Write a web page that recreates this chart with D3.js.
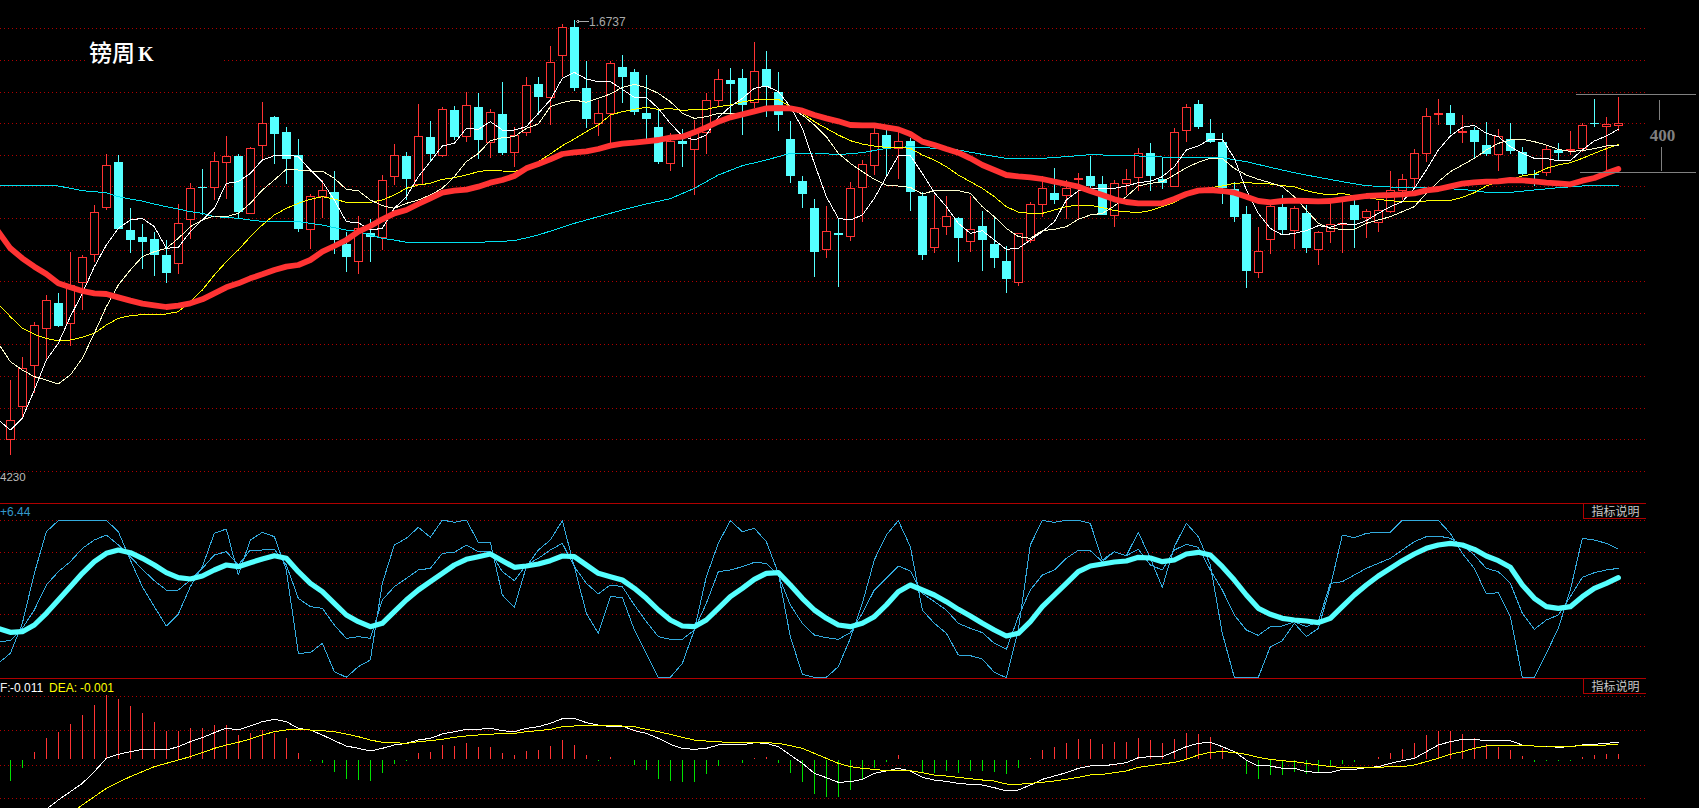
<!DOCTYPE html>
<html><head><meta charset="utf-8">
<script src="https://cdn.jsdelivr.net/npm/d3@7"></script>
<style>html,body{margin:0;padding:0;background:#000;overflow:hidden}svg{display:block}</style>
</head><body><svg id="c" width="1699" height="808"></svg>
<script>
const opens=[1.4219,1.4415,1.4663,1.4885,1.5035,1.4915,1.5159,1.5329,1.5611,1.5881,
1.5473,1.5431,1.5419,1.5323,1.5275,1.5539,1.5731,1.5731,1.5879,1.5919,
1.5575,1.5983,1.6153,1.6061,1.5925,1.5477,1.5675,1.5703,1.5391,1.5285,
1.5455,1.5429,1.5795,1.5919,1.5749,1.6033,1.5925,1.6193,1.6035,1.6211,
1.5999,1.6169,1.5939,1.6059,1.6351,1.6271,1.6521,1.6693,1.6325,1.6113,
1.6173,1.6451,1.6423,1.6175,1.6091,1.5875,1.6007,1.5959,1.6059,1.6253,
1.6373,1.6385,1.6239,1.6439,1.6301,1.6019,1.5767,1.5605,1.5359,1.5455,
1.5437,1.5731,1.5863,1.6043,1.5963,1.6009,1.5679,1.5371,1.5497,1.5545,
1.5407,1.5499,1.5391,1.5289,1.5161,1.5415,1.5629,1.5695,1.5681,1.5781,
1.5797,1.5749,1.5563,1.5753,1.5791,1.5935,1.5779,1.5735,1.6073,1.6229,
1.6055,1.6001,1.5719,1.5571,1.5221,1.5419,1.5611,1.5471,1.5575,1.5359,
1.5467,1.5507,1.5623,1.5551,1.5521,1.5585,1.5711,1.5785,1.5935,1.6173,
1.6175,1.6063,1.6075,1.5983,1.5927,1.6019,1.5941,1.5809,1.5821,1.5955,
1.5953,1.5965,1.6117,1.6095,1.6103];
const closes=[1.4331,1.4645,1.4903,1.5051,1.4899,1.5145,1.5311,1.5579,1.5863,1.5481,
1.5417,1.5405,1.5325,1.5219,1.5515,1.5723,1.5727,1.5885,1.5917,1.5583,
1.5965,1.6115,1.6051,1.5903,1.5481,1.5675,1.5713,1.5415,1.5315,1.5485,
1.5433,1.5773,1.5923,1.5781,1.6039,1.5933,1.6199,1.6033,1.6223,1.6017,
1.6181,1.5937,1.6045,1.6343,1.6273,1.6481,1.6691,1.6327,1.6143,1.6175,
1.6475,1.6393,1.6185,1.6143,1.5883,1.6007,1.5993,1.6065,1.6251,1.6379,
1.6353,1.6227,1.6425,1.6335,1.6167,1.5801,1.5693,1.5345,1.5465,1.5445,
1.5723,1.5869,1.6055,1.5965,1.6005,1.5705,1.5327,1.5485,1.5555,1.5429,
1.5477,1.5417,1.5309,1.5183,1.5455,1.5629,1.5725,1.5657,1.5725,1.5785,
1.5741,1.5567,1.5753,1.5777,1.5935,1.5801,1.5757,1.6061,1.6211,1.6095,
1.6005,1.5729,1.5555,1.5231,1.5347,1.5617,1.5477,1.5605,1.5369,1.5461,
1.5507,1.5515,1.5537,1.5585,1.5593,1.5711,1.5779,1.5935,1.6157,1.6177,
1.6107,1.6067,1.6005,1.5933,1.6035,1.5951,1.5811,1.5805,1.5959,1.5939,
1.5957,1.6103,1.6113,1.6109,1.6115];
const highs=[1.4575,1.4711,1.4925,1.5085,1.5095,1.5345,1.5325,1.5623,1.5931,1.5925,
1.5605,1.5511,1.5465,1.5415,1.5631,1.5759,1.5841,1.5941,1.6039,1.5931,
1.5975,1.6243,1.6159,1.6095,1.6021,1.5691,1.5775,1.5829,1.5461,1.5559,
1.5541,1.5805,1.5991,1.5945,1.6231,1.6129,1.6211,1.6219,1.6303,1.6297,
1.6199,1.6361,1.6091,1.6391,1.6391,1.6579,1.6711,1.6737,1.6489,1.6255,
1.6489,1.6525,1.6439,1.6405,1.6195,1.6055,1.6079,1.6135,1.6295,1.6439,
1.6445,1.6439,1.6603,1.6549,1.6423,1.6127,1.5799,1.5659,1.5619,1.5541,
1.5761,1.5895,1.6085,1.6075,1.6065,1.6025,1.5701,1.5685,1.5679,1.5555,
1.5681,1.5587,1.5559,1.5379,1.5455,1.5645,1.5799,1.5845,1.5775,1.5815,
1.5919,1.5799,1.5775,1.5841,1.5967,1.5995,1.5911,1.6085,1.6231,1.6255,
1.6139,1.6055,1.5761,1.5619,1.5491,1.5639,1.5685,1.5619,1.5625,1.5471,
1.5635,1.5645,1.5655,1.5599,1.5649,1.5829,1.5811,1.5959,1.6207,1.6261,
1.6225,1.6165,1.6095,1.6123,1.6079,1.6115,1.5971,1.5835,1.5979,1.5995,
1.6069,1.6115,1.6259,1.6151,1.6271];
const lows=[1.4125,1.4345,1.4495,1.4695,1.4891,1.4779,1.4995,1.5285,1.5595,1.5481,
1.5335,1.5241,1.5199,1.5159,1.5211,1.5419,1.5565,1.5655,1.5661,1.5545,
1.5575,1.5895,1.5871,1.5751,1.5465,1.5359,1.5545,1.5331,1.5221,1.5211,
1.5285,1.5355,1.5743,1.5655,1.5743,1.5885,1.5911,1.6015,1.6005,1.5903,
1.5909,1.5927,1.5855,1.6041,1.6165,1.6105,1.6391,1.6309,1.6087,1.6039,
1.5995,1.6235,1.6165,1.6019,1.5871,1.5829,1.5855,1.5685,1.5931,1.6215,
1.6165,1.6045,1.6205,1.6151,1.6069,1.5755,1.5607,1.5195,1.5309,1.5135,
1.5411,1.5523,1.5805,1.5805,1.5783,1.5591,1.5295,1.5339,1.5447,1.5285,
1.5345,1.5231,1.5249,1.5095,1.5141,1.5399,1.5551,1.5631,1.5539,1.5543,
1.5715,1.5567,1.5495,1.5685,1.5711,1.5711,1.5719,1.5735,1.6005,1.6083,
1.5995,1.5631,1.5525,1.5127,1.5189,1.5333,1.5445,1.5361,1.5339,1.5267,
1.5399,1.5339,1.5369,1.5429,1.5463,1.5575,1.5655,1.5725,1.5883,1.6105,
1.6051,1.5997,1.5899,1.5919,1.5831,1.5933,1.5805,1.5739,1.5799,1.5889,
1.5925,1.5945,1.6095,1.5825,1.6071];

// moving averages, first value sits one week before the first candle
const maWeeks=d3.range(-1,135);
const maWhite=[1.4335,1.4275,1.4345,1.4515,1.4695,1.4795,1.4955,1.5095,1.5255,1.5385,1.5485,
1.5535,1.5545,1.5495,1.5365,1.5371,1.5465,1.5535,1.5605,1.5755,1.5765,
1.5815,1.5895,1.5921,1.5925,1.5915,1.5835,1.5765,1.5655,1.5525,1.5519,
1.5475,1.5485,1.5605,1.5675,1.5795,1.5885,1.5979,1.5995,1.6085,1.6079,
1.6125,1.6075,1.6075,1.6095,1.6175,1.6255,1.6385,1.6421,1.6381,1.6365,
1.6365,1.6319,1.6271,1.6271,1.6205,1.6115,1.6039,1.6015,1.6045,1.6151,
1.6215,1.6265,1.6325,1.6339,1.6305,1.6215,1.6085,1.5875,1.5675,1.5545,
1.5535,1.5565,1.5665,1.5795,1.5921,1.5921,1.5815,1.5699,1.5615,1.5515,
1.5455,1.5471,1.5415,1.5359,1.5365,1.5415,1.5465,1.5525,1.5655,1.5709,
1.5725,1.5725,1.5725,1.5739,1.5759,1.5767,1.5795,1.5855,1.5955,1.5979,
1.6021,1.6021,1.5905,1.5715,1.5575,1.5485,1.5445,1.5455,1.5471,1.5501,
1.5491,1.5515,1.5505,1.5531,1.5575,1.5615,1.5645,1.5725,1.5835,1.5955,
1.6039,1.6091,1.6103,1.6055,1.6035,1.5975,1.5935,1.5905,1.5905,1.5889,
1.5891,1.5955,1.6009,1.6039,1.6079];
const maPale=[1.4795,1.4685,1.4635,1.4595,1.4575,1.4551,1.4605,1.4705,1.4855,1.5015,1.5145,
1.5235,1.5315,1.5345,1.5365,1.5425,1.5495,1.5535,1.5559,1.5555,1.5575,
1.5635,1.5715,1.5775,1.5839,1.5835,1.5829,1.5829,1.5785,1.5719,1.5711,
1.5655,1.5621,1.5605,1.5635,1.5655,1.5685,1.5725,1.5795,1.5885,1.5935,
1.6011,1.6029,1.6035,1.6085,1.6111,1.6215,1.6239,1.6255,1.6241,1.6265,
1.6291,1.6331,1.6349,1.6329,1.6295,1.6245,1.6175,1.6145,1.6155,1.6175,
1.6171,1.6175,1.6185,1.6205,1.6219,1.6205,1.6165,1.6105,1.6035,1.5935,
1.5875,1.5825,1.5779,1.5745,1.5739,1.5731,1.5691,1.5711,1.5713,1.5711,
1.5695,1.5615,1.5555,1.5485,1.5435,1.5425,1.5471,1.5479,1.5495,1.5539,
1.5565,1.5575,1.5619,1.5675,1.5739,1.5755,1.5765,1.5805,1.5849,1.5881,
1.5905,1.5903,1.5845,1.5805,1.5779,1.5759,1.5735,1.5675,1.5595,1.5515,
1.5485,1.5479,1.5479,1.5515,1.5535,1.5555,1.5585,1.5615,1.5695,1.5765,
1.5825,1.5865,1.5905,1.5955,1.5995,1.6015,1.6019,1.6005,1.5985,1.5959,
1.5947,1.5951,1.5963,1.5979,1.5983];
const maYellow=[1.5031,1.4955,1.4885,1.4849,1.4825,1.4809,1.4815,1.4831,1.4855,1.4905,1.4945,
1.4961,1.4967,1.4971,1.4971,1.4985,1.5045,1.5115,1.5205,1.5285,1.5355,
1.5435,1.5505,1.5565,1.5605,1.5635,1.5659,1.5675,1.5661,1.5641,1.5641,
1.5641,1.5655,1.5685,1.5725,1.5745,1.5755,1.5779,1.5789,1.5805,1.5825,
1.5835,1.5829,1.5827,1.5845,1.5885,1.5931,1.5981,1.6021,1.6065,1.6105,
1.6165,1.6185,1.6199,1.6211,1.6199,1.6203,1.6193,1.6197,1.6199,1.6215,
1.6225,1.6243,1.6255,1.6259,1.6259,1.6215,1.6175,1.6125,1.6085,1.6045,
1.6011,1.5991,1.5979,1.5971,1.5971,1.5965,1.5925,1.5895,1.5855,1.5805,
1.5765,1.5725,1.5675,1.5615,1.5583,1.5575,1.5575,1.5595,1.5615,1.5625,
1.5623,1.5609,1.5591,1.5585,1.5579,1.5591,1.5615,1.5639,1.5685,1.5705,
1.5729,1.5739,1.5755,1.5759,1.5755,1.5751,1.5741,1.5735,1.5711,1.5695,
1.5685,1.5695,1.5679,1.5671,1.5659,1.5651,1.5645,1.5645,1.5649,1.5653,
1.5653,1.5671,1.5699,1.5739,1.5765,1.5775,1.5799,1.5811,1.5845,1.5865,
1.5879,1.5905,1.5935,1.5963,1.5987];
const maRed=[1.5465,1.5365,1.5305,1.5255,1.5211,1.5155,1.5131,1.5109,1.5095,1.5091,1.5071,
1.5051,1.5033,1.5023,1.5013,1.5021,1.5035,1.5059,1.5095,1.5131,1.5155,
1.5185,1.5209,1.5235,1.5255,1.5265,1.5295,1.5345,1.5379,1.5415,1.5465,
1.5499,1.5539,1.5575,1.5595,1.5631,1.5665,1.5699,1.5711,1.5717,1.5735,
1.5759,1.5775,1.5799,1.5845,1.5871,1.5899,1.5931,1.5941,1.5947,1.5961,
1.5981,1.5993,1.5999,1.6007,1.6015,1.6029,1.6035,1.6061,1.6091,1.6125,
1.6151,1.6169,1.6187,1.6205,1.6207,1.6205,1.6191,1.6165,1.6145,1.6127,
1.6105,1.6103,1.6103,1.6091,1.6079,1.6051,1.6005,1.5985,1.5961,1.5939,
1.5905,1.5865,1.5835,1.5805,1.5797,1.5791,1.5781,1.5765,1.5751,1.5735,
1.5709,1.5685,1.5659,1.5643,1.5635,1.5635,1.5635,1.5661,1.5691,1.5711,
1.5715,1.5709,1.5699,1.5675,1.5649,1.5641,1.5649,1.5651,1.5649,1.5647,
1.5649,1.5659,1.5669,1.5679,1.5683,1.5685,1.5689,1.5695,1.5713,1.5721,
1.5737,1.5753,1.5761,1.5765,1.5767,1.5775,1.5773,1.5767,1.5759,1.5755,
1.5749,1.5771,1.5787,1.5815,1.5841];
const maCyanWeeks=[-1,3,4,5,6,7,8,9,10,11,12,13,14,15,16,17,18,19,20,21,22,24,25,26,27,28,29,30,31,32,33,34,37,39,42,44,47,49,51,53,55,57,59,61,63,65,67,69,71,73,75,77,79,81,83,86,88,90,93,95,97,101,103,105,107,109,111,113,115,117,119,121,123,125,127,129,131,134];
const maCyan=[1.5739,1.5743,1.5739,1.5725,1.5711,1.5705,1.5699,1.5675,1.5661,1.5649,1.5631,1.5615,1.5601,1.5585,1.5575,1.5555,1.5551,1.5545,1.5535,1.5527,1.5525,1.5525,1.5515,1.5505,1.5489,1.5475,1.5465,1.5445,1.5425,1.5415,1.5401,1.5399,1.5399,1.5401,1.5411,1.5445,1.5515,1.5555,1.5595,1.5631,1.5663,1.5725,1.5805,1.5861,1.5895,1.5935,1.5937,1.5927,1.5939,1.5965,1.5975,1.5965,1.5955,1.5929,1.5905,1.5905,1.5915,1.5927,1.5921,1.5917,1.5909,1.5909,1.5885,1.5851,1.5819,1.5791,1.5765,1.5741,1.5733,1.5729,1.5725,1.5719,1.5701,1.5701,1.5715,1.5729,1.5739,1.5743];

// oscillator pane
const oscThick=[30.0,27.6,28.0,32.0,39.0,47.0,55.0,63.0,70.0,75.0,77.0,
75.4,72.0,68.0,63.4,60.4,59.6,61.4,65.0,68.0,67.0,
69.4,71.6,73.6,72.0,64.0,57.0,52.0,45.0,38.0,34.0,
31.0,33.0,40.0,47.0,53.0,58.0,63.0,68.0,71.4,73.0,
74.6,70.6,66.6,67.4,68.6,70.6,73.4,73.0,68.0,63.0,
61.0,59.0,54.0,48.0,41.0,35.0,31.4,31.0,35.0,42.0,
49.0,54.0,59.4,63.0,63.4,56.0,48.0,41.0,36.0,32.0,
31.0,33.0,37.0,44.0,52.0,56.0,53.0,50.0,46.0,41.4,
37.4,33.0,29.0,25.4,27.0,34.0,43.0,50.0,57.0,64.0,
67.4,68.6,69.8,70.4,72.6,72.2,70.0,71.0,74.6,75.6,
74.0,67.0,59.0,50.0,42.0,38.4,36.0,35.0,34.4,33.4,
36.0,43.0,50.0,56.0,61.4,66.0,70.6,74.6,78.0,80.0,
81.0,80.0,77.4,73.4,70.6,66.6,56.0,48.0,43.0,42.0,
43.0,49.0,54.0,57.0,60.4];
const oscFast=[9.0,15.0,33.0,63.0,88.0,94.6,94.8,94.8,94.8,94.8,88.0,
71.0,55.0,43.0,31.4,38.6,55.0,67.0,87.0,89.6,62.0,
83.0,87.6,85.0,65.0,15.0,15.4,21.0,4.0,0.6,7.0,
11.0,57.0,80.0,84.0,90.6,84.6,95.0,93.6,95.0,81.6,
81.6,50.0,42.6,67.0,77.0,83.0,94.6,67.0,39.0,27.0,
49.0,48.6,29.0,15.0,0.6,0.6,9.0,29.0,61.0,81.0,
94.6,88.0,90.0,82.0,63.0,25.0,2.4,0.6,0.6,7.0,
24.0,45.0,71.0,86.0,94.6,79.0,41.0,33.0,27.0,14.0,
13.6,11.6,3.6,0.4,29.0,80.0,94.8,93.6,94.8,94.8,
93.0,71.0,76.0,73.6,87.6,72.0,54.6,79.0,93.0,85.0,
68.0,27.0,0.6,0.6,0.6,19.0,22.6,33.0,25.0,30.0,
55.0,86.0,84.4,87.0,87.6,87.6,94.8,94.8,94.8,94.8,
87.0,75.0,66.0,50.6,51.4,37.0,0.6,0.6,15.0,30.0,
53.0,84.0,83.0,81.0,77.6];
const oscMid=[22.0,22.6,30.0,41.0,56.0,64.0,70.0,78.0,83.0,86.0,80.0,
73.0,65.4,58.6,53.0,53.0,59.0,66.0,74.0,76.0,68.0,
77.0,77.0,77.4,68.0,48.0,43.0,42.0,32.0,24.0,25.0,
24.0,47.0,55.0,60.0,65.0,66.0,75.0,75.6,80.0,76.0,
76.0,64.0,58.6,68.0,72.0,77.0,81.0,67.0,57.0,50.6,
56.0,55.0,44.0,34.0,25.0,23.4,23.4,29.0,45.0,64.0,
65.0,67.0,69.6,69.0,62.0,44.0,33.0,26.0,24.4,23.4,
27.4,39.0,53.0,60.0,67.4,64.4,51.0,46.0,41.0,33.0,
30.0,27.4,21.0,17.4,37.0,53.0,62.0,65.0,72.0,76.8,
76.6,70.0,76.0,73.6,77.4,68.0,65.0,77.0,80.4,78.6,
65.0,53.0,38.0,29.0,25.8,31.0,31.4,34.0,31.0,34.0,
57.0,58.0,62.0,66.0,69.0,72.0,77.0,82.0,85.0,85.4,
84.0,80.0,74.0,66.0,64.0,57.0,39.0,29.4,35.0,38.0,
49.0,60.6,63.4,65.0,66.0];

// MACD pane
const macdWeeks=d3.range(0,135);
const dif=[-.0484,-.0424,-.0364,-.0300,-.0244,-.0194,-.0144,-.0074,.0006,.0030,
.0046,.0060,.0060,.0056,.0076,.0106,.0130,.0160,.0188,.0176,
.0200,.0226,.0240,.0226,.0186,.0176,.0146,.0112,.0080,.0066,
.0050,.0066,.0086,.0096,.0116,.0126,.0152,.0166,.0180,.0180,
.0186,.0172,.0166,.0186,.0196,.0216,.0244,.0246,.0220,.0206,
.0196,.0200,.0172,.0156,.0126,.0090,.0066,.0060,.0066,.0086,
.0090,.0086,.0100,.0096,.0076,.0026,-.0024,-.0084,-.0110,-.0138,
-.0134,-.0120,-.0084,-.0070,-.0054,-.0070,-.0108,-.0124,-.0132,-.0144,
-.0150,-.0154,-.0170,-.0190,-.0184,-.0154,-.0120,-.0100,-.0080,-.0054,
-.0040,-.0040,-.0030,-.0020,.0010,.0016,.0016,.0046,.0076,.0096,
.0102,.0076,.0046,-.0004,-.0040,-.0040,-.0054,-.0054,-.0074,-.0078,
-.0078,-.0060,-.0060,-.0050,-.0044,-.0024,-.0008,.0006,.0046,.0086,
.0106,.0120,.0120,.0112,.0116,.0112,.0086,.0080,.0080,.0072,
.0076,.0086,.0090,.0096,.0102];
const dea=[-.0524,-.0484,-.0444,-.0404,-.0364,-.0324,-.0274,-.0224,-.0174,-.0138,
-.0104,-.0074,-.0044,-.0024,-.0004,.0016,.0040,.0066,.0086,.0102,
.0122,.0146,.0166,.0176,.0180,.0176,.0172,.0166,.0152,.0136,
.0116,.0102,.0100,.0096,.0106,.0112,.0120,.0132,.0140,.0146,
.0150,.0156,.0156,.0166,.0172,.0180,.0196,.0200,.0206,.0200,
.0202,.0200,.0196,.0180,.0166,.0150,.0132,.0116,.0110,.0106,
.0100,.0100,.0100,.0100,.0096,.0082,.0066,.0036,.0006,-.0024,
-.0044,-.0054,-.0060,-.0068,-.0068,-.0068,-.0080,-.0094,-.0100,-.0108,
-.0116,-.0124,-.0130,-.0148,-.0150,-.0144,-.0138,-.0130,-.0120,-.0108,
-.0094,-.0090,-.0080,-.0070,-.0048,-.0038,-.0028,-.0018,0,.0026,
.0042,.0046,.0042,.0030,.0012,0,-.0008,-.0014,-.0024,-.0034,
-.0044,-.0048,-.0048,-.0048,-.0048,-.0044,-.0044,-.0034,-.0014,.0006,
.0030,.0046,.0066,.0080,.0084,.0086,.0086,.0080,.0080,.0078,
.0076,.0084,.0086,.0086,.0092];
const hist=[-.0130,-.0054,.0046,.0126,.0166,.0212,.0266,.0326,.0384,.0360,
.0320,.0276,.0222,.0172,.0172,.0186,.0186,.0206,.0206,.0146,
.0156,.0176,.0160,.0126,.0036,-.0008,-.0024,-.0076,-.0120,-.0124,
-.0130,-.0084,-.0028,-.0008,.0036,.0046,.0086,.0082,.0096,.0076,
.0076,.0040,.0026,.0050,.0056,.0080,.0116,.0086,.0026,-.0008,
.0016,-.0004,-.0034,-.0064,-.0116,-.0130,-.0136,-.0136,-.0088,-.0040,
-.0006,-.0024,.0008,.0012,-.0024,-.0084,-.0138,-.0208,-.0228,-.0224,
-.0184,-.0120,-.0054,-.0014,.0026,-.0004,-.0074,-.0084,-.0070,-.0084,
-.0070,-.0070,-.0074,-.0088,-.0050,.0008,.0056,.0076,.0100,.0122,
.0122,.0092,.0106,.0106,.0130,.0116,.0100,.0122,.0156,.0152,
.0132,.0066,-.0004,-.0088,-.0116,-.0096,-.0094,-.0074,-.0086,-.0078,
-.0044,-.0028,-.0016,.0002,.0016,.0040,.0064,.0100,.0146,.0172,
.0172,.0152,.0126,.0090,.0076,.0056,.0022,-.0014,-.0008,-.0008,
-.0008,.0016,.0026,.0030,.0032];

const priceGrid=d3.range(0,15).map(k=>1.6685-k*.01896);
const oscGrid=[94.8,76,57,38.4,19.2];
const macdGrid=[.0378,.0174,-.0032,-.0234];

const RED='#ff3333',CYAN='#55ffff',GRID='#b00000',LINE='#b00000',BLUE='#33aadd';
const ARIAL='"Liberation Sans",Arial,sans-serif';
const svg=d3.select('#c');
svg.append('rect').attr('width',1699).attr('height',808).attr('fill','#000');

const x=d3.scaleLinear().domain([0,134]).range([10.33,1618.33]);
const px=i=>Math.floor(x(i))+.5;
const yP=d3.scaleLinear().domain([1.4059,1.6855]).range([466,0]);
const yO=d3.scaleLinear().domain([0,100]).range([678.33,511.67]);
const yM=d3.scaleLinear().domain([-.03,.04]).range([809.33,692.67]);
const RIGHT=1646;

function hgrid(vals,scale){
  svg.append('g').selectAll('line').data(vals).join('line')
    .attr('x1',0).attr('x2',RIGHT)
    .attr('y1',d=>Math.round(scale(d))+.5).attr('y2',d=>Math.round(scale(d))+.5)
    .attr('stroke',GRID).attr('stroke-dasharray','1,3').attr('shape-rendering','crispEdges');
}
hgrid(priceGrid,yP); hgrid(oscGrid,yO); hgrid(macdGrid,yM);

// title mask and title
svg.append('rect').attr('x',88).attr('y',44).attr('width',134).attr('height',26).attr('fill','#000');
const title=svg.append('text').attr('y',61).attr('fill','#fff');
title.append('tspan').attr('x',89).attr('font-family','"Noto Sans CJK SC",sans-serif').attr('font-size',23).attr('font-weight',500).text('镑周');
title.append('tspan').attr('x',138).attr('font-family','"Liberation Serif",serif').attr('font-size',20).attr('font-weight','bold').text('K');

// panel separators
[503.5,678.5].forEach(yy=>svg.append('line').attr('x1',0).attr('x2',RIGHT).attr('y1',yy).attr('y2',yy)
  .attr('stroke',LINE).attr('shape-rendering','crispEdges'));

// candles
const weeks=d3.range(opens.length);
const gc=svg.append('g').attr('shape-rendering','crispEdges');
gc.selectAll('line').data(weeks).join('line')
  .attr('x1',px).attr('x2',px).attr('y1',i=>yP(highs[i])).attr('y2',i=>yP(lows[i]))
  .attr('stroke',i=>closes[i]>=opens[i]?RED:CYAN);
gc.selectAll('rect').data(weeks).join('rect')
  .attr('x',i=>px(i)-(closes[i]>=opens[i]?4:4.5))
  .attr('width',i=>closes[i]>=opens[i]?8:9)
  .attr('y',i=>yP(Math.max(opens[i],closes[i])))
  .attr('height',i=>Math.max(1,yP(Math.min(opens[i],closes[i]))-yP(Math.max(opens[i],closes[i]))))
  .attr('fill',i=>closes[i]>=opens[i]?'#000':CYAN)
  .attr('stroke',i=>closes[i]>=opens[i]?RED:'none');

function drawLine(idx,vals,scale,color,w,crisp=true){
  const l=d3.line().x((d,k)=>x(idx[k])).y(d=>scale(d));
  svg.append('path').datum(vals).attr('d',l).attr('fill','none').attr('stroke',color)
    .attr('stroke-width',w).attr('stroke-linejoin','round').attr('stroke-linecap','round')
    .attr('shape-rendering',crisp?'crispEdges':'auto');
}
drawLine(maCyanWeeks,maCyan,yP,'#00e0f0',1);
drawLine(maWeeks,maYellow,yP,'#ffff00',1);
drawLine(maWeeks,maPale,yP,'#ffffd0',1);
drawLine(maWeeks,maWhite,yP,'#ffffff',1);
drawLine(maWeeks,maRed,yP,RED,5.8,false);

// oscillator
drawLine(maWeeks,oscFast,yO,BLUE,1,true);
drawLine(maWeeks,oscMid,yO,BLUE,1,true);
drawLine(maWeeks,oscThick,yO,CYAN,5.2,false);

// MACD
const baseline=yM(0);
svg.append('g').attr('shape-rendering','crispEdges').selectAll('line').data(macdWeeks).join('line')
  .attr('x1',px).attr('x2',px)
  .attr('y1',i=>hist[i]>=0?baseline-.5:baseline+.5).attr('y2',i=>yM(hist[i]))
  .attr('stroke',i=>hist[i]>=0?RED:'#00e000');
drawLine(macdWeeks,dif,yM,'#ffffff',1);
drawLine(macdWeeks,dea,yM,'#ffff00',1);

// texts
function txt(xx,yy,s,color,size=12,anchor='start',fam=ARIAL){
  return svg.append('text').attr('x',xx).attr('y',yy).attr('fill',color).attr('font-size',size)
    .attr('font-family',fam).attr('text-anchor',anchor).text(s);
}
txt(0,516,'+6.44','#3399cc',12);
txt(0,692,'F:','#eee',12);
txt(10,692,'-0.011','#fff',12);
txt(49,692,'DEA:','#ffff00',12);
txt(80,692,'-0.001','#ffff00',12);
txt(0,481,'4230','#bbb',11.5);
// peak annotation
const peakI=47, ax=px(peakI)+1, ay=Math.round(yP(highs[peakI]))+1.5;
svg.append('path').attr('d',`M${ax+2},${ay}H${ax+13}M${ax+4},${ay-2}L${ax+1},${ay}L${ax+4},${ay+2}`)
  .attr('stroke','#aaa').attr('fill','none').attr('shape-rendering','crispEdges');
txt(589,25.5,'1.6737','#aaa',12);

// indicator buttons
[504,679].forEach(t=>{
  svg.append('path').attr('d',`M${1583.5},${t}V${t+14.5}H${1646}`).attr('stroke',LINE).attr('fill','none').attr('shape-rendering','crispEdges');
  txt(1591.5,t+12,'指标说明','#c8c8c8',12,'start','"Noto Sans CJK SC",sans-serif');
});

// 400 bracket
const gb=svg.append('g').attr('stroke','#808080').attr('shape-rendering','crispEdges');
gb.append('line').attr('x1',1576).attr('x2',1696).attr('y1',94.5).attr('y2',94.5);
gb.append('line').attr('x1',1580).attr('x2',1696).attr('y1',172.5).attr('y2',172.5);
gb.append('line').attr('x1',1659.5).attr('x2',1659.5).attr('y1',100).attr('y2',120);
gb.append('line').attr('x1',1661.5).attr('x2',1661.5).attr('y1',147).attr('y2',171);
txt(1662.5,140.5,'400','#808080',17,'middle','"Liberation Serif",serif').attr('font-weight','bold');
</script></body></html>
